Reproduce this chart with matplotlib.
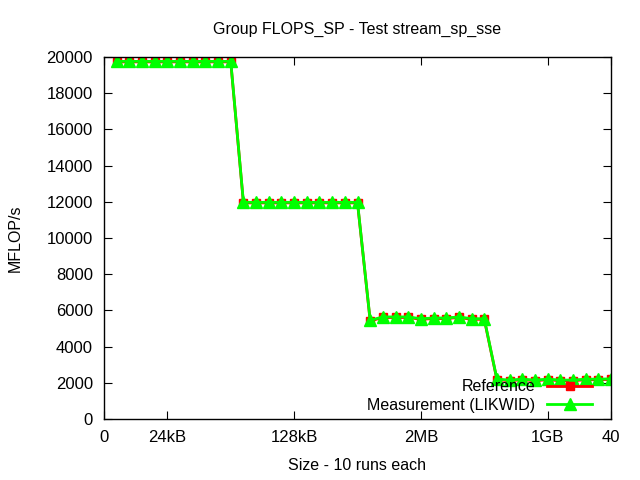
import matplotlib
matplotlib.use('Agg')
import matplotlib.pyplot as plt

plt.rcParams['font.family'] = ['Liberation Sans', 'DejaVu Sans']
plt.rcParams['font.size'] = 11.5

# run index on the x axis
x = list(range(1, 41))

reference = [19730, 19730, 19730, 19730, 19730, 19730, 19730, 19730, 19730, 19730,
             11940, 11940, 11940, 11940, 11940, 11940, 11940, 11940, 11940, 11940,
             5420, 5610, 5610, 5610, 5510, 5550, 5550, 5610, 5510, 5510,
             2170, 2120, 2170, 2120, 2170, 2120, 2120, 2170, 2170, 2190]
measurement = [19760, 19760, 19760, 19760, 19760, 19760, 19760, 19760, 19760, 19760,
               11970, 11970, 11970, 11970, 11970, 11970, 11970, 11970, 11970, 11970,
               5450, 5640, 5640, 5640, 5540, 5580, 5580, 5640, 5540, 5540,
               2200, 2150, 2200, 2150, 2200, 2150, 2150, 2200, 2200, 2220]

xtick_pos = [0, 5, 15, 25, 35, 40]
xtick_labels = ['0', '24kB', '128kB', '2MB', '1GB', '40']
ytick_pos = list(range(0, 20001, 2000))

fig = plt.figure(figsize=(6.4, 4.8), dpi=100)
ax = fig.add_axes([104 / 640, 1 - 419 / 480, 507 / 640, 362 / 480])

ax.plot(x, reference, color='#ff0000', linewidth=2, marker='s', markersize=6,
        label='Reference')
ax.plot(x, measurement, color='#00ff00', linewidth=2, marker='^', markersize=8,
        label='Measurement (LIKWID)')

ax.set_xlim(0, 40)
ax.set_ylim(0, 20000)
ax.set_xticks(xtick_pos)
ax.set_xticklabels(xtick_labels)
ax.set_yticks(ytick_pos)
ax.tick_params(direction='in', length=6, top=True, right=True, labelsize=12)
ax.tick_params(axis='x', pad=8)
ax.tick_params(axis='y', pad=8)
for s in ax.spines.values():
    s.set_linewidth(1)

ax.set_title('Group FLOPS_SP - Test stream_sp_sse', fontsize=11.5, pad=17)
ax.set_xlabel('Size - 10 runs each', labelpad=9)
ax.set_ylabel('MFLOP/s', labelpad=17)

# markerfirst=False puts the text left of the sample, right aligned
ax.legend(loc='lower right', frameon=False, markerfirst=False, fontsize=11.5,
          handlelength=2.8, borderaxespad=0, labelspacing=0.2,
          handletextpad=0.75, bbox_to_anchor=(0.975, 0.0))

fig.savefig('out.png', dpi=100)
